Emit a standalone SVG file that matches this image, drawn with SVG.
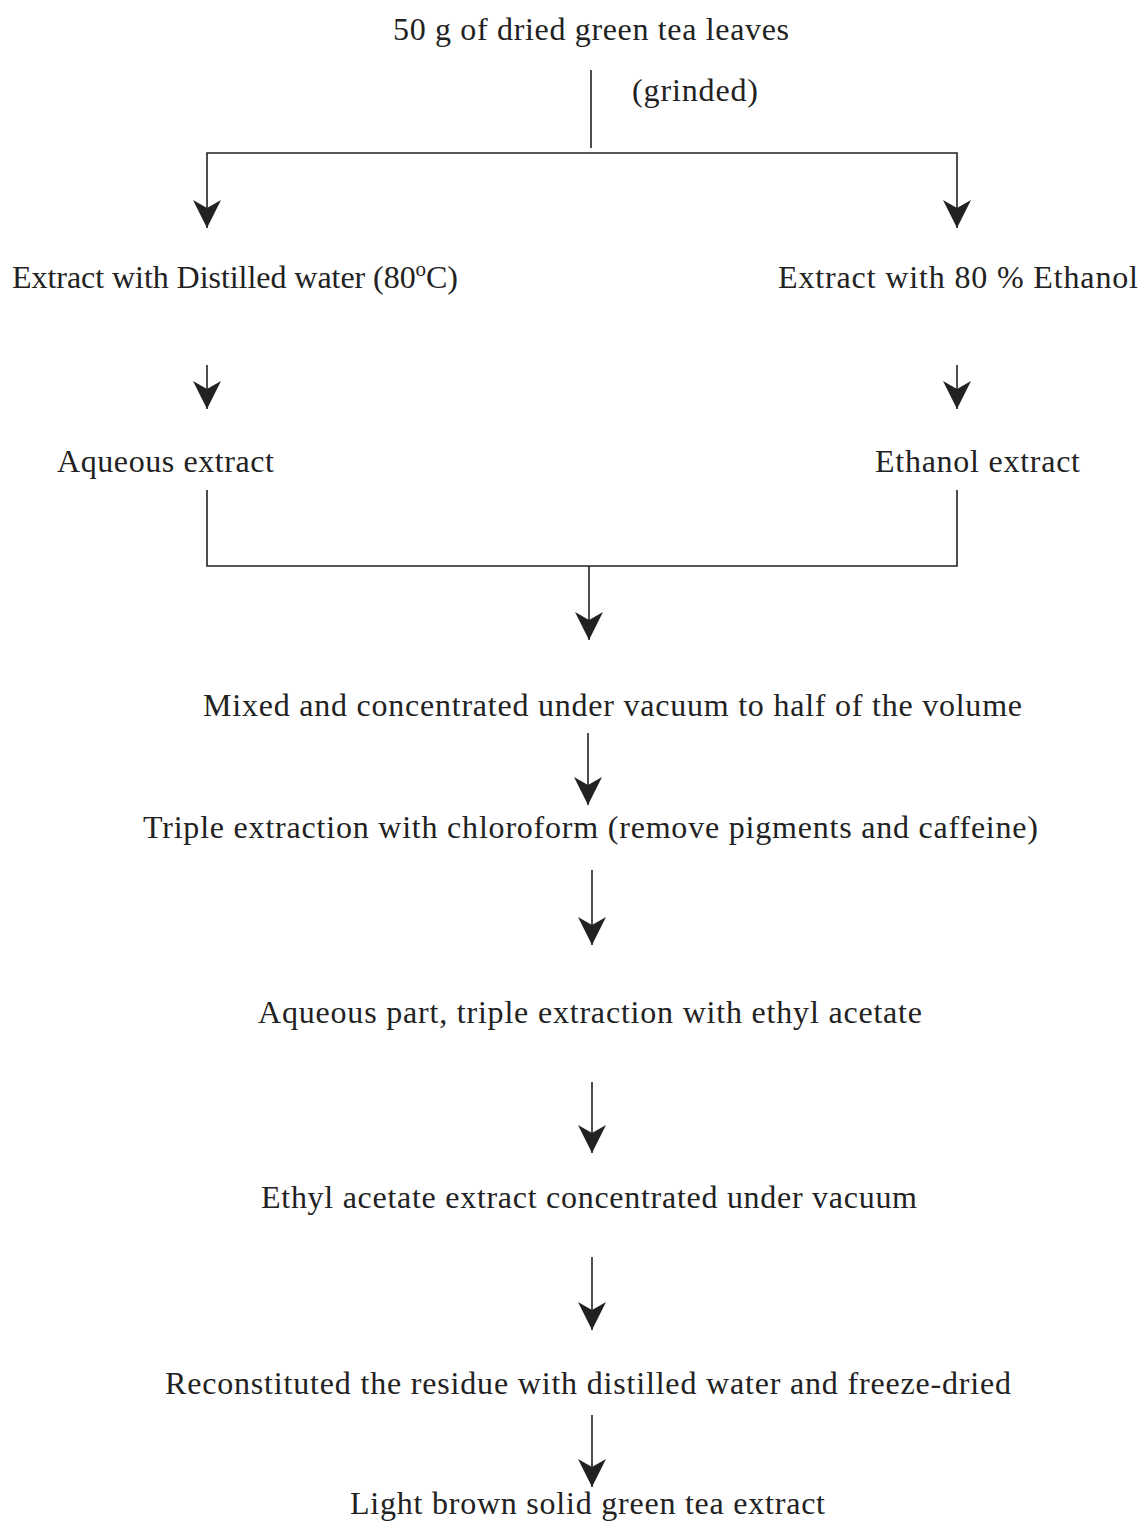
<svg xmlns="http://www.w3.org/2000/svg" width="1142" height="1524" viewBox="0 0 1142 1524">
<style>
  .t { font-family: "Liberation Serif", "Times New Roman", serif; font-size: 32px; fill: #222; }
  .ln { stroke: #222; stroke-width: 1.6; fill: none; }
</style>
<defs>
  <marker id="arr" markerUnits="userSpaceOnUse" markerWidth="32" markerHeight="32" viewBox="-30 -16 32 32" refX="0" refY="0" orient="auto-start-reverse">
    <path d="M0,0 L-28,-14 L-20,0 L-28,14 Z" fill="#222"/>
  </marker>
</defs>
<rect width="1142" height="1524" fill="#fff"/>

<g id="n-start"><text class="t" x="393" y="40" textLength="396" lengthAdjust="spacing">50 g of dried green tea leaves</text></g>
<g id="n-grinded"><text class="t" x="632" y="101" textLength="126" lengthAdjust="spacing">(grinded)</text></g>
<g id="n-water"><text class="t" x="12" y="288" textLength="446" lengthAdjust="spacing">Extract with Distilled water (80<tspan dy="-12" font-size="21">o</tspan><tspan dy="12">C)</tspan></text></g>
<g id="n-ethanol"><text class="t" x="778" y="288" textLength="360" lengthAdjust="spacing">Extract with 80 % Ethanol</text></g>
<g id="n-aqueous"><text class="t" x="57" y="472" textLength="217" lengthAdjust="spacing">Aqueous extract</text></g>
<g id="n-ethext"><text class="t" x="875" y="472" textLength="205" lengthAdjust="spacing">Ethanol extract</text></g>
<g id="n-mixed"><text class="t" x="203" y="716" textLength="819" lengthAdjust="spacing">Mixed and concentrated under vacuum to half of the volume</text></g>
<g id="n-triple"><text class="t" x="143" y="838" textLength="895" lengthAdjust="spacing">Triple extraction with chloroform (remove pigments and caffeine)</text></g>
<g id="n-aqpart"><text class="t" x="258" y="1023" textLength="664" lengthAdjust="spacing">Aqueous part, triple extraction with ethyl acetate</text></g>
<g id="n-ethyl"><text class="t" x="261" y="1208" textLength="656" lengthAdjust="spacing">Ethyl acetate extract concentrated under vacuum</text></g>
<g id="n-recon"><text class="t" x="165" y="1394" textLength="846" lengthAdjust="spacing">Reconstituted the residue with distilled water and freeze-dried</text></g>
<g id="n-final"><text class="t" x="350" y="1514" textLength="475" lengthAdjust="spacing">Light brown solid green tea extract</text></g>

<g id="connectors">
  <line class="ln" x1="591" y1="70" x2="591" y2="148"/>
  <polyline class="ln" points="207,228 207,153 957,153 957,228" marker-start="url(#arr)" marker-end="url(#arr)"/>
  <line class="ln" x1="207" y1="365" x2="207" y2="409" marker-end="url(#arr)"/>
  <line class="ln" x1="957" y1="365" x2="957" y2="409" marker-end="url(#arr)"/>
  <polyline class="ln" points="207,490 207,566 957,566 957,490"/>
  <line class="ln" x1="589" y1="566" x2="589" y2="640" marker-end="url(#arr)"/>
  <line class="ln" x1="588" y1="733" x2="588" y2="805" marker-end="url(#arr)"/>
  <line class="ln" x1="592" y1="870" x2="592" y2="945" marker-end="url(#arr)"/>
  <line class="ln" x1="592" y1="1082" x2="592" y2="1153" marker-end="url(#arr)"/>
  <line class="ln" x1="592" y1="1257" x2="592" y2="1330" marker-end="url(#arr)"/>
  <line class="ln" x1="592" y1="1415" x2="592" y2="1487" marker-end="url(#arr)"/>
</g>
</svg>
